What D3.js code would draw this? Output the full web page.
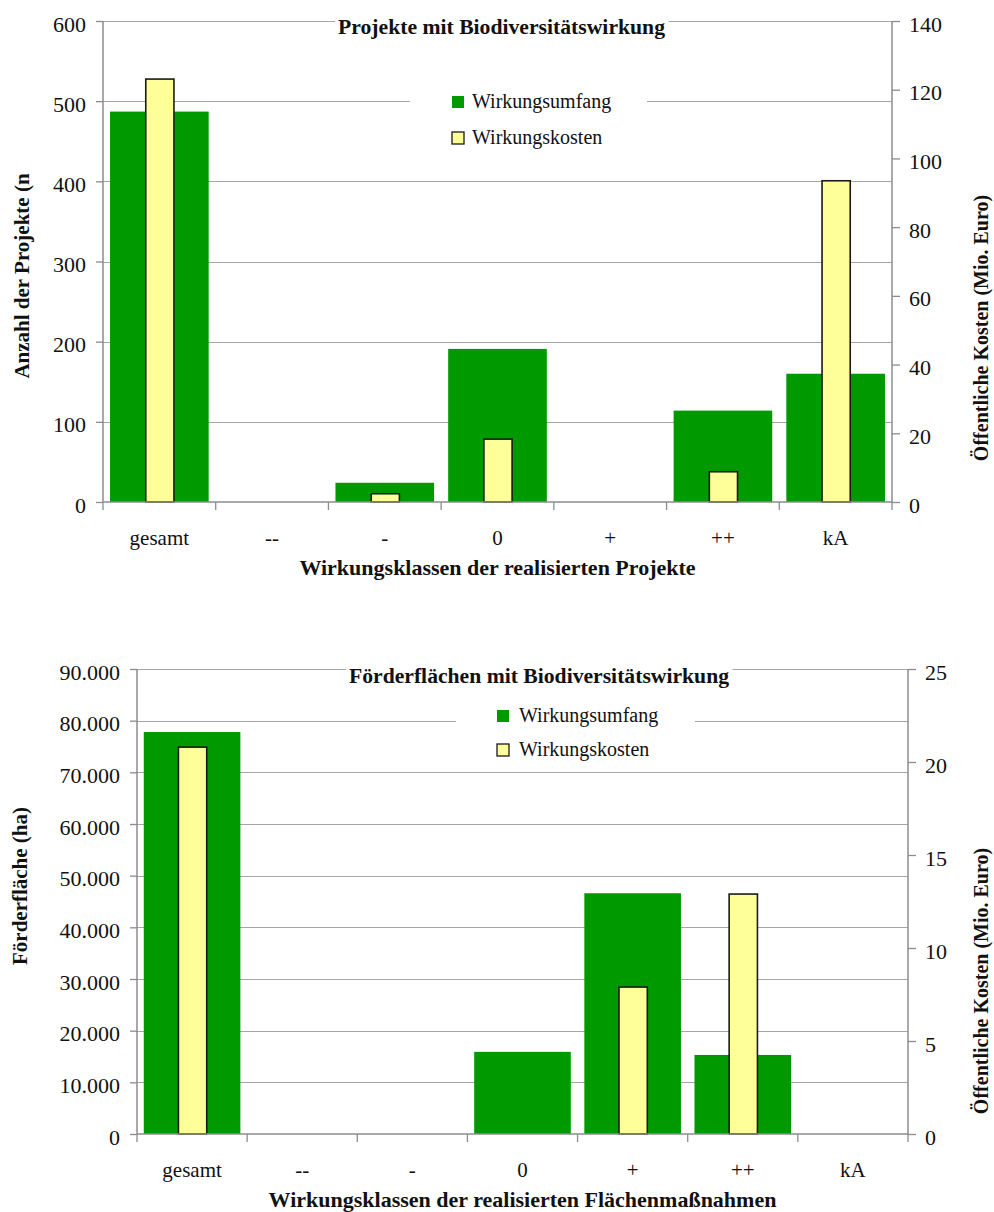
<!DOCTYPE html>
<html>
<head>
<meta charset="utf-8">
<script src="https://cdn.jsdelivr.net/npm/d3@7/dist/d3.min.js"></script>
<style>
  html, body { margin: 0; padding: 0; background: #fff; }
  svg { display: block; font-family: "Liberation Serif", "Times New Roman", serif; }
</style>
</head>
<body>
<svg id="chart" width="994" height="1212"></svg>
<script>
// Wirkungsklassen (shared by both panels)
const categories = ["gesamt", "--", "-", "0", "+", "++", "kA"];
const seriesNames = ["Wirkungsumfang", "Wirkungskosten"];

// Panel 1: Projekte mit Biodiversitätswirkung
const projektAnzahl = [487, 0, 24, 191, 0, 114, 160];          // Anzahl der Projekte
const projektKosten = [123.1, 0, 2.4, 18.3, 0, 8.8, 93.5];     // Mio. Euro
const projektLeftTicks = [0, 100, 200, 300, 400, 500, 600];
const projektRightTicks = [0, 20, 40, 60, 80, 100, 120, 140];

// Panel 2: Förderflächen mit Biodiversitätswirkung
const flaecheHa = [77800, 0, 0, 15900, 46600, 15300, 0];       // Förderfläche (ha)
const flaecheKosten = [20.8, 0, 0, 0, 7.9, 12.9, 0];           // Mio. Euro
const flaecheLeftTicks = [0, 10000, 20000, 30000, 40000, 50000, 60000, 70000, 80000, 90000];
const flaecheRightTicks = [0, 5, 10, 15, 20, 25];

const GREEN = "#009900";
const YELLOW = "#ffff99";
const GRID = "#a6a6a6";
const AXIS = "#8c8c8c";

const de = d3.formatLocale({ decimal: ",", thousands: ".", grouping: [3], currency: ["", " €"] });
const fmtThousands = de.format(",d");

const svg = d3.select("#chart");

function drawPanel(p) {
  const g = svg.append("g");
  const x = d3.scaleBand().domain(categories).range([p.left, p.right]);
  const yL = d3.scaleLinear().domain([0, d3.max(p.leftTicks)]).range([p.bottom, p.top]);
  const yR = d3.scaleLinear().domain([0, d3.max(p.rightTicks)]).range([p.bottom, p.top]);

  // horizontal gridlines on the primary axis
  g.append("g").selectAll("line").data(p.leftTicks.filter(t => t > 0)).join("line")
    .attr("x1", p.left).attr("x2", p.right)
    .attr("y1", d => Math.round(yL(d)) + 0.5).attr("y2", d => Math.round(yL(d)) + 0.5)
    .attr("stroke", GRID).attr("stroke-width", 1);

  // primary bars (wide, green)
  const wBig = x.bandwidth() * p.bigFrac;
  g.append("g").selectAll("rect").data(p.primary.map((v, i) => ({ v, c: categories[i] })).filter(d => d.v > 0)).join("rect")
    .attr("x", d => x(d.c) + (x.bandwidth() - wBig) / 2)
    .attr("width", wBig)
    .attr("y", d => yL(d.v))
    .attr("height", d => yL(0) - yL(d.v))
    .attr("fill", GREEN);

  // secondary bars (narrow, yellow with dark outline)
  const wSmall = x.bandwidth() * p.smallFrac;
  g.append("g").selectAll("rect").data(p.secondary.map((v, i) => ({ v, c: categories[i] })).filter(d => d.v > 0)).join("rect")
    .attr("x", d => x(d.c) + (x.bandwidth() - wSmall) / 2 + 0.5)
    .attr("width", wSmall)
    .attr("y", d => yR(d.v))
    .attr("height", d => yR(0) - yR(d.v))
    .attr("fill", YELLOW)
    .attr("stroke", "#1a1a1a").attr("stroke-width", 1.6);

  // left axis
  const axL = g.append("g").attr("transform", `translate(${p.left},0)`)
    .call(d3.axisLeft(yL).tickValues(p.leftTicks).tickSize(7).tickPadding(10).tickFormat(p.leftFormat));
  // right axis
  const axR = g.append("g").attr("transform", `translate(${p.right},0)`)
    .call(d3.axisRight(yR).tickValues(p.rightTicks).tickSize(8).tickPadding(9).tickFormat(d3.format("d")));
  [axL, axR].forEach(a => {
    a.select(".domain").attr("stroke", AXIS).attr("stroke-width", 1.5).attr("d", `M0,${p.top}V${p.bottom}`);
    a.selectAll(".tick line").attr("stroke", AXIS).attr("stroke-width", 1.3);
    a.selectAll(".tick text").attr("font-size", 22).attr("fill", "#111")
      .attr("font-family", "Liberation Serif").attr("dy", 10);
  });

  // category axis: ticks between bands, labels centred
  const axB = g.append("g").attr("transform", `translate(0,${p.bottom})`);
  axB.append("line").attr("x1", p.left).attr("x2", p.right).attr("y1", 0).attr("y2", 0)
    .attr("stroke", AXIS).attr("stroke-width", 1.5);
  const bounds = categories.map(c => x(c)).concat([p.right]);
  axB.selectAll("line.tk").data(bounds).join("line").attr("class", "tk")
    .attr("x1", d => d).attr("x2", d => d).attr("y1", 0).attr("y2", 8)
    .attr("stroke", AXIS).attr("stroke-width", 1.3);
  axB.selectAll("text").data(categories).join("text")
    .attr("x", d => x(d) + x.bandwidth() / 2)
    .attr("y", p.xLabelBase - p.bottom)
    .attr("text-anchor", "middle").attr("font-size", 21).attr("fill", "#111")
    .text(d => d);

  // axis titles
  g.append("text").attr("x", (p.left + p.right) / 2).attr("y", p.xTitleBase)
    .attr("text-anchor", "middle").attr("font-size", 22).attr("font-weight", "bold").attr("fill", "#111")
    .text(p.xTitle);
  g.append("text").attr("transform", `translate(${p.yTitleLX},${p.yTitleLY}) rotate(-90)`)
    .attr("text-anchor", "middle").attr("font-size", 21).attr("font-weight", "bold").attr("fill", "#111")
    .text(p.yTitleL);
  g.append("text").attr("transform", `translate(${p.yTitleRX},${p.yTitleRY}) rotate(-90)`)
    .attr("text-anchor", "middle").attr("font-size", 20).attr("font-weight", "bold").attr("fill", "#111")
    .text(p.yTitleR);

  // chart title on a white plate
  const plate = g.append("rect").attr("fill", "#fff");
  const t = g.append("text").attr("x", p.titleX).attr("y", p.titleBase)
    .attr("font-size", 21).attr("font-weight", "bold").attr("fill", "#111")
    .attr("textLength", p.titleWidth).attr("lengthAdjust", "spacingAndGlyphs")
    .text(p.title);
  const tb = t.node().getBBox();
  plate.attr("x", tb.x - 3).attr("y", tb.y - 2).attr("width", tb.width + 6).attr("height", tb.height + 4);

  // legend on a white plate
  const lg = g.append("g");
  lg.append("rect").attr("x", p.legX0).attr("y", p.legY0).attr("width", p.legX1 - p.legX0)
    .attr("height", p.legY1 - p.legY0).attr("fill", "#fff");
  const rows = [{ name: seriesNames[0], fill: GREEN, stroke: "none" },
                { name: seriesNames[1], fill: YELLOW, stroke: "#1a1a1a" }];
  rows.forEach((r, i) => {
    const cy = p.legRowY[i];
    lg.append("rect").attr("x", p.legSwX).attr("y", cy - 12).attr("width", 12).attr("height", 12)
      .attr("fill", r.fill).attr("stroke", r.stroke).attr("stroke-width", 1.3);
    lg.append("text").attr("x", p.legTextX).attr("y", cy).attr("font-size", 20).attr("fill", "#111").text(r.name);
  });
}

drawPanel({
  left: 103, right: 892, top: 21, bottom: 502,
  primary: projektAnzahl, secondary: projektKosten,
  leftTicks: projektLeftTicks, rightTicks: projektRightTicks,
  leftFormat: d3.format("d"),
  bigFrac: 0.875, smallFrac: 0.25,
  xLabelBase: 545, xTitleBase: 575,
  xTitle: "Wirkungsklassen der realisierten Projekte",
  yTitleL: "Anzahl der Projekte (n", yTitleLX: 29, yTitleLY: 276,
  yTitleR: "Öffentliche Kosten (Mio. Euro)", yTitleRX: 988, yTitleRY: 328,
  title: "Projekte mit Biodiversitätswirkung", titleX: 338, titleBase: 34, titleWidth: 327,
  legX0: 410, legX1: 647, legY0: 84, legY1: 156,
  legSwX: 452, legTextX: 472, legRowY: [108, 144]
});

drawPanel({
  left: 137, right: 908, top: 669, bottom: 1134,
  primary: flaecheHa, secondary: flaecheKosten,
  leftTicks: flaecheLeftTicks, rightTicks: flaecheRightTicks,
  leftFormat: d => d === 0 ? "0" : fmtThousands(d),
  bigFrac: 0.877, smallFrac: 0.257,
  xLabelBase: 1177, xTitleBase: 1207,
  xTitle: "Wirkungsklassen der realisierten Flächenmaßnahmen",
  yTitleL: "Förderfläche (ha)", yTitleLX: 27, yTitleLY: 886,
  yTitleR: "Öffentliche Kosten (Mio. Euro)", yTitleRX: 988, yTitleRY: 981,
  title: "Förderflächen mit Biodiversitätswirkung", titleX: 349, titleBase: 683, titleWidth: 380,
  legX0: 456, legX1: 695, legY0: 698, legY1: 764,
  legSwX: 497, legTextX: 519, legRowY: [722, 756]
});
</script>
</body>
</html>
